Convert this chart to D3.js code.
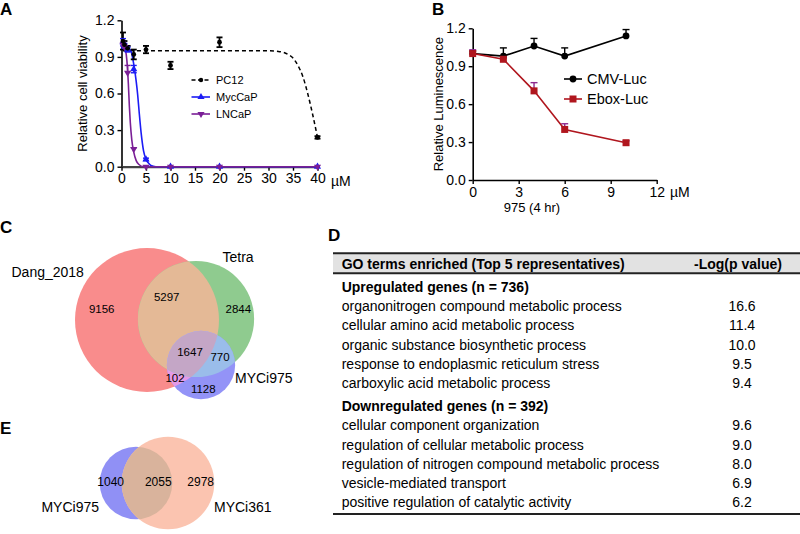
<!DOCTYPE html>
<html><head><meta charset="utf-8">
<script src="https://cdn.jsdelivr.net/npm/d3@7"></script>
<style>body{margin:0;background:#fff}svg{display:block;font-family:"Liberation Sans",Arial,sans-serif}</style>
</head><body><svg id="c" width="800" height="534"></svg>
<script>
// ---------- Panel A data ----------
const doseA = [0.3, 0.6, 1.25, 2.5, 5, 10, 20, 40];
const pc12 = [1.03, 1.0, 0.97, 0.92, 0.96, 0.83, 1.02, 0.24];
const pc12Err = [0.07, 0.03, 0.02, 0.04, 0.03, 0.03, 0.04, 0.01];
const myccap = [1.02, 0.99, 0.96, 0.80, 0.06, 0.0, 0.0, 0.0];
const myccapErr = [0.03, 0.02, 0.02, 0.03, 0.01, 0, 0, 0];
const lncap = [1.0, 0.98, 0.77, 0.145, 0.0, 0.0, 0.0, 0.0];
const lncapErr = [0.02, 0.02, 0.06, 0.01, 0, 0, 0, 0];
// fitted curves
const pc12FitX = [0.3, 30, 32, 34, 35, 36, 37, 38, 39, 40];
const pc12FitY = [0.95, 0.95, 0.945, 0.92, 0.89, 0.83, 0.74, 0.60, 0.43, 0.24];
const mycFitX = [0.3, 1, 1.5, 2, 2.5, 3, 3.3, 3.6, 4, 4.5, 5, 5.5, 6, 7, 40];
const mycFitY = [1.0, 0.985, 0.97, 0.94, 0.84, 0.70, 0.59, 0.45, 0.28, 0.13, 0.06, 0.03, 0.01, 0.0, 0.0];
const lnFitX = [0.3, 0.5, 0.8, 1.1, 1.4, 1.6, 1.8, 2.1, 2.5, 3, 3.5, 4.5, 40];
const lnFitY = [1.0, 0.99, 0.96, 0.87, 0.68, 0.50, 0.36, 0.22, 0.12, 0.05, 0.02, 0.0, 0.0];
const ticksAx = [0, 5, 10, 15, 20, 25, 30, 35, 40];
const ticksY = [0, 0.3, 0.6, 0.9, 1.2];
const seriesA = ["PC12", "MycCaP", "LNCaP"];

// ---------- Panel B data ----------
const doseB = [0, 2, 4, 6, 10];
const cmv = [1.0, 0.98, 1.06, 0.98, 1.14];
const cmvErr = [0.02, 0.065, 0.06, 0.065, 0.05];
const ebox = [1.0, 0.955, 0.705, 0.40, 0.295];
const eboxErr = [0.03, 0.01, 0.065, 0.045, 0.015];
const ticksBx = [0, 3, 6, 9, 12];
const seriesB = ["CMV-Luc", "Ebox-Luc"];

// ---------- Panel C data ----------
const setsC = ["Dang_2018", "Tetra", "MYCi975"];
const regionsC = [
  {key: "D", v: 9156}, {key: "DT", v: 5297}, {key: "T", v: 2844},
  {key: "DTM", v: 1647}, {key: "TM", v: 770}, {key: "DM", v: 102}, {key: "M", v: 1128}
];
// ---------- Panel E data ----------
const setsE = ["MYCi975", "MYCi361"];
const regionsE = [{key: "A", v: 1040}, {key: "AB", v: 2055}, {key: "B", v: 2978}];

// ---------- Panel D data ----------
const goHeader = ["GO terms enriched (Top 5 representatives)", "-Log(p value)"];
const upTitle = "Upregulated genes (n = 736)";
const upTerms = ["organonitrogen compound metabolic process", "cellular amino acid metabolic process",
  "organic substance biosynthetic process", "response to endoplasmic reticulum stress", "carboxylic acid metabolic process"];
const upVals = ["16.6", "11.4", "10.0", "9.5", "9.4"];
const downTitle = "Downregulated genes (n = 392)";
const downTerms = ["cellular component organization", "regulation of cellular metabolic process",
  "regulation of nitrogen compound metabolic process", "vesicle-mediated transport", "positive regulation of catalytic activity"];
const downVals = ["9.6", "9.0", "8.0", "6.9", "6.2"];

const svg = d3.select("#c");
const FONT = "Liberation Sans, Arial, sans-serif";

function letter(t, x, y) {
  svg.append("text").attr("x", x).attr("y", y).text(t)
    .attr("font-size", 17).attr("font-weight", "bold").attr("fill", "#000");
}
function styleAxis(g, fs) {
  g.selectAll("path.domain").attr("stroke", "#000").attr("stroke-width", 1.6);
  g.selectAll(".tick line").attr("stroke", "#000").attr("stroke-width", 1.4);
  g.selectAll(".tick text").attr("font-size", fs).attr("font-family", FONT).attr("fill", "#000");
}

// ================= Panel A =================
letter("A", 0, 15);
const xA = d3.scaleLinear().domain([0, 40]).range([121.5, 317.5]);
const yA = d3.scaleLinear().domain([0, 1.2]).range([166.7, 20.3]);
const gA = svg.append("g");
const axAy = gA.append("g").attr("transform", `translate(${xA(0)},0)`)
  .call(d3.axisLeft(yA).tickValues(ticksY).tickFormat(d3.format(".1f")).tickSize(4).tickSizeOuter(0).tickPadding(3));
styleAxis(axAy, 14);
const axAx = gA.append("g").attr("transform", `translate(0,${yA(0)})`)
  .call(d3.axisBottom(xA).tickValues(ticksAx).tickSize(4).tickSizeOuter(0).tickPadding(2));
styleAxis(axAx, 14);
axAx.select("path.domain").attr("stroke", "#444").attr("stroke-width", 2.2);
gA.append("text").attr("x", 331).attr("y", 186).attr("font-size", 14).text("µM");
gA.append("text").attr("transform", `translate(87,${(yA(0) + yA(1.2)) / 2}) rotate(-90)`)
  .attr("text-anchor", "middle").attr("font-size", 13).text("Relative cell viability");

const colA = {PC12: "#000", MycCaP: "#1c1cf5", LNCaP: "#7a1f96"};
const lineA = d3.line().x(d => xA(d[0])).y(d => yA(d[1])).curve(d3.curveMonotoneX);
gA.append("path").datum(d3.zip(pc12FitX, pc12FitY)).attr("d", lineA)
  .attr("fill", "none").attr("stroke", colA.PC12).attr("stroke-width", 1.5).attr("stroke-dasharray", "4,3");
gA.append("path").datum(d3.zip(mycFitX, mycFitY)).attr("d", lineA)
  .attr("fill", "none").attr("stroke", colA.MycCaP).attr("stroke-width", 1.6);
gA.append("path").datum(d3.zip(lnFitX, lnFitY)).attr("d", lineA)
  .attr("fill", "none").attr("stroke", colA.LNCaP).attr("stroke-width", 1.6);

function errBars(g, xs, ys, es, xS, yS, color, both, cap, sw) {
  xs.forEach((x, i) => {
    if (!es[i]) return;
    const px = xS(x), top = yS(ys[i] + es[i]), bot = both ? yS(ys[i] - es[i]) : yS(ys[i]);
    g.append("line").attr("x1", px).attr("x2", px).attr("y1", top).attr("y2", bot).attr("stroke", color).attr("stroke-width", sw);
    g.append("line").attr("x1", px - cap).attr("x2", px + cap).attr("y1", top).attr("y2", top).attr("stroke", color).attr("stroke-width", sw);
    if (both) g.append("line").attr("x1", px - cap).attr("x2", px + cap).attr("y1", bot).attr("y2", bot).attr("stroke", color).attr("stroke-width", sw);
  });
}
errBars(gA, doseA, pc12, pc12Err, xA, yA, colA.PC12, true, 3, 1.8);
errBars(gA, doseA, myccap, myccapErr, xA, yA, colA.MycCaP, true, 3, 1.4);
errBars(gA, doseA, lncap, lncapErr, xA, yA, colA.LNCaP, false, 3, 1.4);

const tri = d3.symbol().type(d3.symbolTriangle).size(22);
function markersA(g, name, ys) {
  doseA.forEach((x, i) => {
    if (name === "PC12") g.append("circle").attr("cx", xA(x)).attr("cy", yA(ys[i])).attr("r", 2.4).attr("fill", colA.PC12);
    else g.append("path").attr("d", tri()).attr("fill", colA[name])
      .attr("transform", `translate(${xA(x)},${yA(ys[i])})` + (name === "LNCaP" ? " rotate(180)" : ""));
  });
}
markersA(gA, "MycCaP", myccap);
markersA(gA, "LNCaP", lncap);
markersA(gA, "PC12", pc12);

// legend A
seriesA.forEach((s, i) => {
  const y = 80 + i * 17;
  const ln = gA.append("line").attr("x1", 191.5).attr("x2", 210).attr("y1", y).attr("y2", y)
    .attr("stroke", colA[s]).attr("stroke-width", 1.6);
  if (s === "PC12") { ln.attr("stroke-dasharray", "4,2.5"); gA.append("circle").attr("cx", 201).attr("cy", y).attr("r", 2.2).attr("fill", "#000"); }
  else gA.append("path").attr("d", tri()).attr("fill", colA[s]).attr("transform", `translate(201,${y})` + (s === "LNCaP" ? " rotate(180)" : ""));
  gA.append("text").attr("x", 216).attr("y", y + 4).attr("font-size", 11).text(s);
});

// ================= Panel B =================
letter("B", 432, 15);
const xB = d3.scaleLinear().domain([0, 12]).range([472.7, 656.7]);
const yB = d3.scaleLinear().domain([0, 1.2]).range([180, 28.3]);
const gB = svg.append("g");
const axBy = gB.append("g").attr("transform", `translate(${xB(0)},0)`)
  .call(d3.axisLeft(yB).tickValues(ticksY).tickFormat(d3.format(".1f")).tickSize(4).tickSizeOuter(0).tickPadding(3));
styleAxis(axBy, 14);
const axBx = gB.append("g").attr("transform", `translate(0,${yB(0)})`)
  .call(d3.axisBottom(xB).tickValues(ticksBx).tickSize(4).tickSizeOuter(0).tickPadding(3));
styleAxis(axBx, 14);
gB.append("text").attr("x", 670).attr("y", 197).attr("font-size", 14).text("µM");
gB.append("text").attr("x", 532).attr("y", 212).attr("text-anchor", "middle").attr("font-size", 13).text("975 (4 hr)");
gB.append("text").attr("transform", `translate(443,${(yB(0) + yB(1.2)) / 2}) rotate(-90)`)
  .attr("text-anchor", "middle").attr("font-size", 13).text("Relative Luminescence");

const colB = {"CMV-Luc": "#000", "Ebox-Luc": "#b0161e"};
const lineB = d3.line().x(d => xB(d[0])).y(d => yB(d[1]));
errBars(gB, doseB, cmv, cmvErr, xB, yB, "#000", false, 3.5, 1.4);
errBars(gB, doseB, ebox, eboxErr, xB, yB, "#8e2a8e", false, 3.5, 1.4);
gB.append("path").datum(d3.zip(doseB, cmv)).attr("d", lineB).attr("fill", "none").attr("stroke", colB["CMV-Luc"]).attr("stroke-width", 1.6);
gB.append("path").datum(d3.zip(doseB, ebox)).attr("d", lineB).attr("fill", "none").attr("stroke", colB["Ebox-Luc"]).attr("stroke-width", 1.6);
doseB.forEach((x, i) => {
  gB.append("circle").attr("cx", xB(x)).attr("cy", yB(cmv[i])).attr("r", 3.4).attr("fill", "#000");
  gB.append("rect").attr("x", xB(x) - 3.5).attr("y", yB(ebox[i]) - 3.5).attr("width", 7).attr("height", 7).attr("fill", colB["Ebox-Luc"]);
});
seriesB.forEach((s, i) => {
  const y = 79 + i * 20;
  gB.append("line").attr("x1", 564).attr("x2", 582).attr("y1", y).attr("y2", y).attr("stroke", colB[s]).attr("stroke-width", 1.6);
  if (i === 0) gB.append("circle").attr("cx", 573).attr("cy", y).attr("r", 3.4).attr("fill", "#000");
  else gB.append("rect").attr("x", 569.5).attr("y", y - 3.5).attr("width", 7).attr("height", 7).attr("fill", colB[s]);
  gB.append("text").attr("x", 587).attr("y", y + 5).attr("font-size", 14.5).text(s);
});

// ================= Panel C (Venn) =================
letter("C", 0, 233);
const totC = {
  Dang_2018: d3.sum(regionsC.filter(r => r.key.includes("D")), r => r.v),
  Tetra: d3.sum(regionsC.filter(r => r.key.includes("T")), r => r.v),
  MYCi975: d3.sum(regionsC.filter(r => r.key.includes("M")), r => r.v)
};
const rC = d3.scaleSqrt().domain([0, 16202]).range([0, 72]);
const layoutC = {Dang_2018: [147, 320], Tetra: [196, 319], MYCi975: [201, 365]};
const defs = svg.append("defs");
const circC = setsC.map(s => ({name: s, cx: layoutC[s][0], cy: layoutC[s][1], r: rC(totC[s])}));
circC.forEach((c, i) => defs.append("clipPath").attr("id", "cc" + i).append("circle").attr("cx", c.cx).attr("cy", c.cy).attr("r", c.r));
const gC = svg.append("g");
const onlyCol = ["#f98c8c", "#8fcb8f", "#9393f7"];
circC.forEach((c, i) => gC.append("circle").attr("cx", c.cx).attr("cy", c.cy).attr("r", c.r).attr("fill", onlyCol[i]));
function circ(g, c, fill) { return g.append("circle").attr("cx", c.cx).attr("cy", c.cy).attr("r", c.r).attr("fill", fill); }
circ(gC.append("g").attr("clip-path", "url(#cc0)"), circC[1], "#e4b996");
circ(gC.append("g").attr("clip-path", "url(#cc0)"), circC[2], "#e59ae6");
circ(gC.append("g").attr("clip-path", "url(#cc1)"), circC[2], "#9abdea");
circ(gC.append("g").attr("clip-path", "url(#cc0)").append("g").attr("clip-path", "url(#cc1)"), circC[2], "#c4a6c6");
const labPosC = {D: [101.7, 309], DT: [166.7, 297], T: [238.3, 309], DTM: [190, 351.5], TM: [220, 356.5], DM: [175, 378.3], M: [203.3, 389]};
regionsC.forEach(r => gC.append("text").attr("x", labPosC[r.key][0]).attr("y", labPosC[r.key][1] + 4)
  .attr("text-anchor", "middle").attr("font-size", 11.5).text(d3.format("d")(r.v)));
gC.append("text").attr("x", 11.5).attr("y", 276.5).attr("font-size", 14).text(setsC[0]);
gC.append("text").attr("x", 222.5).attr("y", 261.5).attr("font-size", 14).text(setsC[1]);
gC.append("text").attr("x", 235).attr("y", 383).attr("font-size", 14).text(setsC[2]);

// ================= Panel E (Venn) =================
letter("E", 0, 434);
const totE = [d3.sum(regionsE.filter(r => r.key.includes("A")), r => r.v), d3.sum(regionsE.filter(r => r.key.includes("B")), r => r.v)];
const rE = d3.scaleSqrt().domain([0, 5033]).range([0, 46.3]);
const layoutE = [[136, 483], [168, 483]];
const circE = setsE.map((s, i) => ({name: s, cx: layoutE[i][0], cy: layoutE[i][1], r: rE(totE[i])}));
defs.append("clipPath").attr("id", "ce0").append("circle").attr("cx", circE[0].cx).attr("cy", circE[0].cy).attr("r", circE[0].r);
const gE = svg.append("g");
circ(gE, circE[0], "#9090f5");
circ(gE, circE[1], "#fbc4b0");
circ(gE.append("g").attr("clip-path", "url(#ce0)"), circE[1], "#d9b39c");
const labPosE = {A: [110.7, 481.7], AB: [158.3, 481.7], B: [200.7, 481.7]};
regionsE.forEach(r => gE.append("text").attr("x", labPosE[r.key][0]).attr("y", labPosE[r.key][1] + 4)
  .attr("text-anchor", "middle").attr("font-size", 12).text(r.v));
gE.append("text").attr("x", 99).attr("y", 512).attr("text-anchor", "end").attr("font-size", 14).text(setsE[0]);
gE.append("text").attr("x", 214).attr("y", 512).attr("font-size", 14).text(setsE[1]);

// ================= Panel D (table) =================
letter("D", 328, 241);
const gD = svg.append("g").attr("font-size", 14);
const tx0 = 333, tx1 = 800, termX = 341.7, valX = 742;
gD.append("rect").attr("x", tx0).attr("y", 253.3).attr("width", tx1 - tx0).attr("height", 20).attr("fill", "#e2e2e2");
[253.3, 273.3, 514].forEach(y => gD.append("line").attr("x1", tx0).attr("x2", tx1).attr("y1", y).attr("y2", y).attr("stroke", "#222").attr("stroke-width", 2));
gD.append("text").attr("x", termX).attr("y", 268.5).attr("font-weight", "bold").text(goHeader[0]);
gD.append("text").attr("x", valX - 4).attr("y", 268.5).attr("text-anchor", "middle").attr("font-weight", "bold").text(goHeader[1]);
function group(title, terms, vals, y0) {
  gD.append("text").attr("x", termX).attr("y", y0).attr("font-weight", "bold").text(title);
  terms.forEach((t, i) => {
    const y = y0 + 19.3 * (i + 1);
    gD.append("text").attr("x", termX).attr("y", y).text(t);
    gD.append("text").attr("x", valX).attr("y", y).attr("text-anchor", "middle").text(vals[i]);
  });
}
group(upTitle, upTerms, upVals, 291.7);
group(downTitle, downTerms, downVals, 410.9);
</script></body></html>
